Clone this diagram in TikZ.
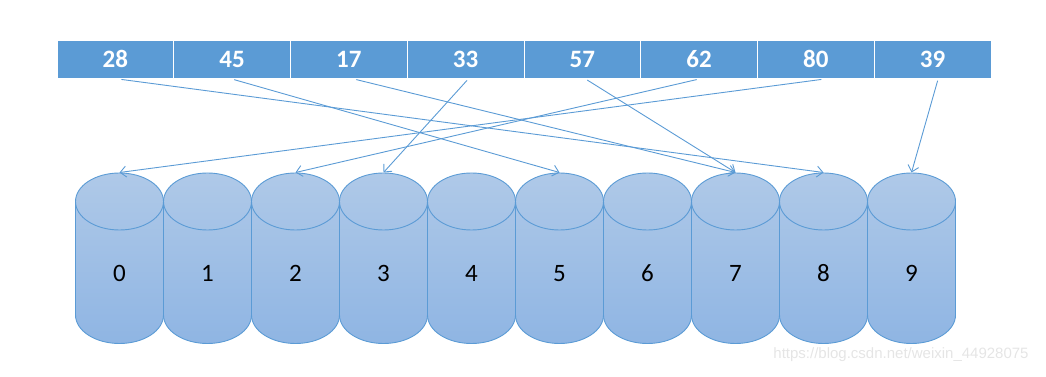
\documentclass[tikz,border=0pt]{standalone}
\usepackage{fontspec}
\setmainfont{Carlito}
\newfontfamily\markfont{Liberation Sans}
\usepackage{xcolor}
\definecolor{office}{RGB}{91,155,213}
\definecolor{bucktop}{RGB}{175,201,232}
\definecolor{buckbot}{RGB}{143,181,227}
\usepackage{tikz}
\usetikzlibrary{arrows.meta,positioning}

\begin{document}
\begin{tikzpicture}[
    x=1pt, y=1pt,
    keybox/.style={draw=white, line width=1pt, fill=office, text=white, minimum width=116.75pt, minimum height=38.7pt, inner sep=0pt, text height=16pt, text depth=0pt, font=\fontsize{25}{25}\selectfont\bfseries},
    bucklabel/.style={font=\fontsize{25}{25}\selectfont, text=black, anchor=base, inner sep=0pt},
    link/.style={-{Straight Barb[length=6pt,width=11pt]}, office, line width=0.9pt, shorten <=1.5pt}
]
\useasboundingbox (0,0) rectangle (1046,377);

% keys
\foreach \v [count=\i] in {28,45,17,33,57,62,80,39}
    \node[keybox] (k\i) at (57+116.75*\i-58.375, 317.6) {\v};

% buckets
\foreach \i in {0,...,9} {
    \pgfmathsetmacro\cx{119.5+88*\i}
    \shade[top color=bucktop, bottom color=buckbot]
        (\cx-44,175.5) -- (\cx-44,62) arc[start angle=180, end angle=360, x radius=44, y radius=28.5]
        -- (\cx+44,175.5) arc[start angle=0, end angle=180, x radius=44, y radius=28.5] -- cycle;
    \draw[office, line width=0.9pt]
        (\cx-44,175.5) -- (\cx-44,62) arc[start angle=180, end angle=360, x radius=44, y radius=28.5]
        -- (\cx+44,175.5);
    \draw[office, line width=0.9pt] (\cx,175.5) ellipse[x radius=44, y radius=28.5];
    \node[bucklabel] (b\i) at (\cx,95.5) {\i};
    \coordinate (t\i) at (\cx,204.5);
}

% connectors
\foreach \f/\t/\dx in {1/8/4.6, 2/5/0.6, 3/7/6, 4/3/2.4, 5/7/3.6, 6/2/-1, 7/0/7, 8/9/5.4}
    \draw[link] ([xshift=\dx pt]k\f.south) -- (t\t);

\node[font=\markfont\fontsize{15}{15}\selectfont, text=black!10] (wm) at (901,22) {https://blog.csdn.net/weixin\_44928075};
\end{tikzpicture}
\end{document}
